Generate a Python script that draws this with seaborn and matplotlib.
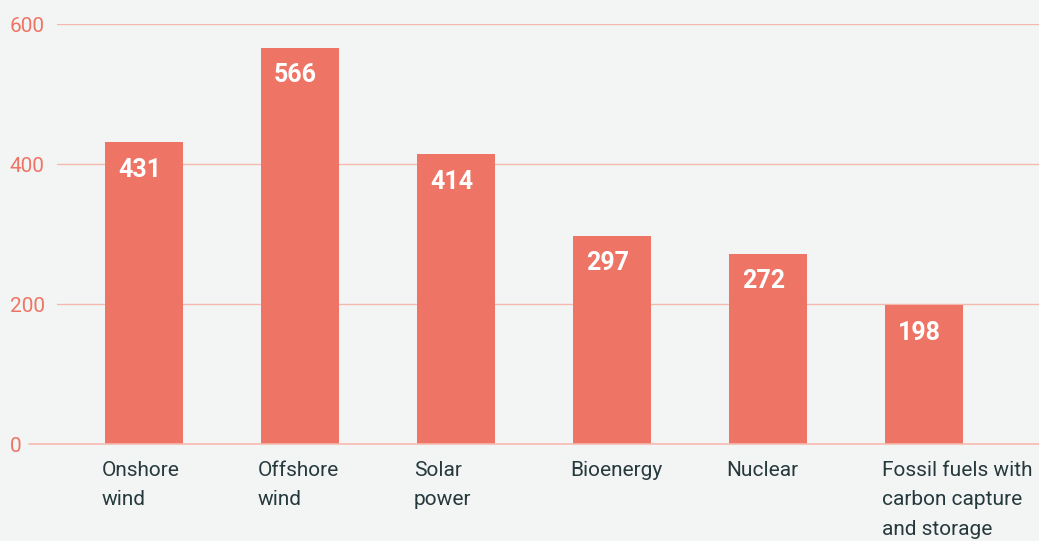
import matplotlib
matplotlib.use("Agg")
import matplotlib.pyplot as plt
import matplotlib.transforms as mtransforms
import seaborn as sns

categories = ["Onshore\nwind", "Offshore\nwind", "Solar\npower", "Bioenergy", "Nuclear",
              "Fossil fuels with\ncarbon capture\nand storage"]
values = [431, 566, 414, 297, 272, 198]
yticks = [0, 200, 400, 600]

bg = "#f3f5f4"
bar_color = "#ee7566"
grid_color = "#f6b9ae"
text_dark = "#26393d"

sns.set_style("white")
plt.rcParams["font.family"] = ["Roboto", "DejaVu Sans"]

fig = plt.figure(figsize=(10.39, 5.41), dpi=100, facecolor=bg)
ax = fig.add_axes([57 / 1039, 97 / 541, 982 / 1039, 420 / 541], facecolor=bg)

sns.barplot(x=categories, y=values, color=bar_color, saturation=1, width=0.5,
            linewidth=0, ax=ax, zorder=3)

ax.set_xlim(-87 / 156, -87 / 156 + 982 / 156)
ax.set_ylim(0, 600)
ax.set_yticks(yticks)
ax.set_yticklabels([str(t) for t in yticks])

for t in yticks[1:]:
    ax.axhline(t, color=grid_color, lw=1, zorder=1)
ax.axhline(0, xmin=-28 / 982, xmax=1, color=grid_color, lw=1.2, zorder=4, clip_on=False)

for s in ax.spines.values():
    s.set_visible(False)
ax.tick_params(axis="both", length=0)
ax.tick_params(axis="y", pad=34, labelsize=15, labelcolor=bar_color)
for lab in ax.get_yticklabels():
    lab.set_horizontalalignment("left")

ax.tick_params(axis="x", pad=12, labelsize=15, labelcolor=text_dark)
offset = mtransforms.ScaledTranslation(-0.42, 0, fig.dpi_scale_trans)
for lab in ax.get_xticklabels():
    lab.set_horizontalalignment("left")
    lab.set_linespacing(1.72)
    lab.set_transform(lab.get_transform() + offset)

for i, v in enumerate(values):
    ax.text(i - 0.25 + 13 / 156, v - 49, str(v), color="white", fontsize=18,
            fontweight="bold", ha="left", va="baseline", zorder=5)

ax.set_xlabel("")
ax.set_ylabel("")
fig.savefig("out.png", dpi=100, facecolor=bg)
